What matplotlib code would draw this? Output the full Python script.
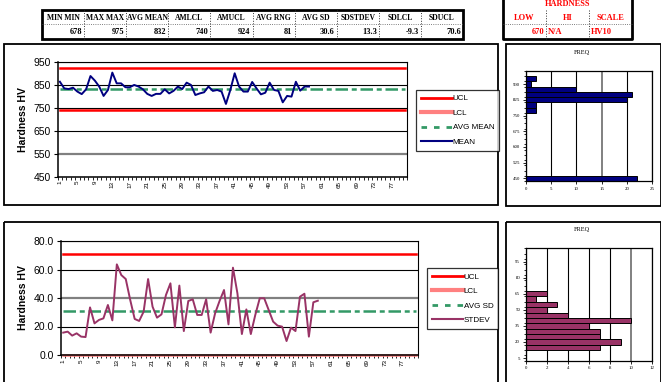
import numpy as np
import matplotlib.pyplot as plt
from matplotlib.patches import Rectangle
from matplotlib.lines import Line2D

W, H = 661, 382
plt.rcParams['font.family'] = ['Liberation Sans', 'DejaVu Sans']

# ---- data ----
stat_heads = ['MIN MIN', 'MAX MAX', 'AVG MEAN', 'AMLCL', 'AMUCL', 'AVG RNG', 'AVG SD', 'SDSTDEV', 'SDLCL', 'SDUCL']
stat_vals = ['678', '975', '832', '740', '924', '81', '30.6', '13.3', '-9.3', '70.6']
hard_title = 'HARDNESS'
hard_heads = ['LOW', 'HI', 'SCALE']
hard_vals = ['670', 'N/A', 'HV10']

n_cat = 80
mean_vals = [865, 836, 833, 839, 822, 811, 832, 890, 870, 844,
             803, 829, 905, 858, 858, 841, 841, 851, 844, 832,
             812, 803, 812, 812, 832, 814, 825, 844, 833, 861,
             851, 807, 814, 819, 844, 825, 829, 822, 768, 829,
             902, 844, 822, 822, 864, 836, 810, 817, 861, 829,
             825, 775, 803, 800, 865, 826, 844, 844]
mean_ucl, mean_lcl, mean_avg = 924, 740, 832

sd_vals = [15.7, 16.4, 13.6, 15.2, 12.9, 12.6, 33.4, 22.2, 24.6, 25.7,
           35.1, 24.3, 63.6, 56.1, 53.3, 38.6, 25.3, 23.9, 30.4, 53.3,
           33.9, 26.2, 28.5, 42.1, 50.3, 19.4, 48.7, 16.8, 37.9, 39.1,
           28.1, 28.1, 39.1, 15.7, 29.2, 37.9, 45.6, 21.5, 61.3, 43.3,
           14.7, 32.0, 14.7, 28.1, 39.8, 39.8, 31.6, 23.4, 20.6, 19.9,
           9.8, 19.2, 16.8, 40.9, 43.0, 12.9, 37.0, 38.1]
sd_ucl, sd_lcl, sd_avg = 70.6, 0.0, 30.6

mean_bins = [450, 475, 500, 525, 550, 575, 600, 625, 650, 675, 700,
             725, 750, 775, 800, 825, 850, 875, 900, 925, 950]
mean_freq = [22, 0, 0, 0, 0, 0, 0, 0, 0, 0, 0,
             0, 0, 2, 2, 20, 21, 10, 1, 2, 0]
sd_bins = [5, 10, 15, 20, 25, 30, 35, 40, 45, 50, 55,
           60, 65, 70, 75, 80, 85, 90, 95, 100, 105]
sd_freq = [0, 0, 7, 9, 7, 7, 6, 10, 4, 2, 3,
           1, 2, 0, 0, 0, 0, 0, 0, 0, 0]

RED = '#FF0000'
PINK = '#FF8080'
GREEN = '#339966'
NAVY = '#000080'
PLUM = '#993366'


def box(x0, y0, x1, y1):
    return [x0 / W, 1 - y1 / H, (x1 - x0) / W, (y1 - y0) / H]


fig = plt.figure(figsize=(W / 100, H / 100), dpi=100)
fig.patch.set_facecolor('white')

# overlay in pixel coordinates for table and panel frames
ov = fig.add_axes([0, 0, 1, 1], zorder=0)
ov.set_xlim(0, W)
ov.set_ylim(H, 0)
ov.axis('off')

for (x0, y0, x1, y1) in [(4, 44, 498, 205), (506, 44, 661, 206),
                         (4, 222, 498, 384), (506, 222, 661, 384)]:
    ov.add_patch(Rectangle((x0, y0), x1 - x0, y1 - y0, fill=False, ec='black', lw=1.3))

# stats table
tx0, tx1, ty0, ty1, ty2 = 42, 463, 10, 24, 39
cw = (tx1 - tx0) / len(stat_heads)
ov.add_patch(Rectangle((tx0, ty0), tx1 - tx0, ty2 - ty0, fill=False, ec='black', lw=2))
ov.plot([tx0, tx1], [ty1, ty1], color='#555555', lw=0.6, ls=':')
for i, (hd, v) in enumerate(zip(stat_heads, stat_vals)):
    cx = tx0 + i * cw
    if i > 0:
        ov.plot([cx, cx], [ty0, ty2], color='#333333', lw=0.7, ls=':')
    t = ov.text(cx + cw / 2, (ty0 + ty1) / 2 + 0.5, hd, ha='center', va='center',
                fontsize=5.5, fontweight='bold', family='Liberation Serif')
    t.set_clip_path(Rectangle((cx, ty0), cw, ty1 - ty0, transform=ov.transData))
    ov.text(cx + cw - 2, (ty1 + ty2) / 2 + 0.5, v, ha='right', va='center',
            fontsize=6, fontweight='bold', family='Liberation Serif')

# hardness table
hx0, hx1 = 503, 632
hw = (hx1 - hx0) / 3
ov.plot([hx0, hx0, hx1, hx1], [0, ty2, ty2, 0], color='black', lw=2)
ov.text((hx0 + hx1) / 2, 4.5, hard_title, ha='center', va='center', color=RED,
        fontsize=6, fontweight='bold', family='Liberation Serif')
ov.plot([hx0, hx1], [ty1, ty1], color='#555555', lw=0.6, ls=':')
for i, (hd, v) in enumerate(zip(hard_heads, hard_vals)):
    cx = hx0 + i * hw
    if i > 0:
        ov.plot([cx, cx], [ty0, ty2], color='#333333', lw=0.7, ls=':')
    ov.text(cx + hw / 2, (ty0 + ty1) / 2 + 0.5, hd, ha='center', va='center', color=RED,
            fontsize=6, fontweight='bold', family='Liberation Serif')
    if i == 0:
        ov.text(cx + hw - 2, (ty1 + ty2) / 2 + 0.5, v, ha='right', va='center', color=RED,
                fontsize=6, fontweight='bold', family='Liberation Serif')
    else:
        ov.text(cx + 1.5, (ty1 + ty2) / 2 + 0.5, v, ha='left', va='center', color=RED,
                fontsize=6, fontweight='bold', family='Liberation Serif')


def control_chart(rect, vals, ucl, lcl, avg, ylim, yticks, yfmt, grey_y, lcl_color,
                  line_color, names, leg_xy):
    ax = fig.add_axes(rect, zorder=2)
    cats = np.arange(1, n_cat + 1)
    ax.set_xlim(0.5, n_cat + 0.5)
    ax.set_ylim(*ylim)
    ax.set_yticks(yticks)
    ax.set_yticklabels([yfmt.format(v) for v in yticks], fontsize=7.5)
    ax.yaxis.grid(True, color='black', lw=0.8)
    ax.set_axisbelow(True)
    for gl, v in zip(ax.get_ygridlines(), yticks):
        if v == grey_y:
            gl.set_color('#808080')
            gl.set_linewidth(1.6)
    ax.plot(cats, np.full(n_cat, ucl), color=RED, lw=1.8)
    ax.plot(cats, np.full(n_cat, lcl), color=lcl_color, lw=1.8, clip_on=False)
    ax.plot(cats, np.full(n_cat, avg), color=GREEN, lw=1.8, ls=(0, (5, 1.5, 2, 1.5)))
    ax.plot(np.arange(1, len(vals) + 1), vals, color=line_color, lw=1.4)
    ax.set_xticks(np.arange(1, n_cat + 1, 4))
    ax.set_xticklabels([str(c) for c in range(1, n_cat + 1, 4)], rotation=90, fontsize=4.5)
    ax.tick_params(axis='x', which='major', length=0, pad=3)
    ax.set_xticks(np.arange(0.5, n_cat + 1.5, 1), minor=True)
    ax.tick_params(axis='x', which='minor', length=2.5, width=0.6, direction='out')
    ax.tick_params(axis='y', length=3, width=0.8, pad=2)
    for s in ax.spines.values():
        s.set_linewidth(0.8)
    ax.spines['left'].set_linewidth(1.1)
    ax.spines['bottom'].set_linewidth(1.1)
    ax.set_ylabel('Hardness HV', fontsize=7.5, fontweight='bold', labelpad=4)
    handles = [Line2D([], [], color=RED, lw=2),
               Line2D([], [], color=PINK, lw=3),
               Line2D([], [], color=GREEN, lw=2, ls=(0, (2, 2.5))),
               Line2D([], [], color=line_color, lw=1.5)]
    leg = fig.legend(handles, names, loc='upper left', bbox_to_anchor=leg_xy,
                     frameon=True, fancybox=False, edgecolor='black', fontsize=5.8,
                     handlelength=3.9, handletextpad=0.1, labelspacing=0.85,
                     borderpad=0.6, borderaxespad=0)
    leg.get_frame().set_linewidth(0.9)
    return ax


control_chart(box(57.7, 62.3, 407.3, 176.7), mean_vals, mean_ucl, mean_lcl, mean_avg,
              (450, 950), [450, 550, 650, 750, 850, 950], '{:d}', 550, RED, NAVY,
              ['UCL', 'LCL', 'AVG MEAN', 'MEAN'], (415.7 / W, 1 - 90 / H))
control_chart(box(61, 241, 418.3, 355), sd_vals, sd_ucl, sd_lcl, sd_avg,
              (0, 80), [0, 20, 40, 60, 80], '{:.1f}', 40, PINK, PLUM,
              ['UCL', 'LCL', 'AVG SD', 'STDEV'], (426.7 / W, 1 - 268.3 / H))


def freq_chart(rect, bins, freq, xmax, xstep, grey_x, color, title_y):
    ax = fig.add_axes(rect, zorder=2)
    pos = np.arange(len(bins))
    ax.barh(pos, freq, height=1.0, color=color, edgecolor='black', lw=0.7)
    ax.set_ylim(-0.5, len(bins) - 0.5)
    ax.set_xlim(0, xmax)
    xt = np.arange(0, xmax + 1, xstep)
    ax.set_xticks(xt)
    ax.set_xticklabels([str(v) for v in xt], fontsize=3.5, family='Liberation Serif')
    ax.set_yticks(pos[::3])
    ax.set_yticklabels([str(b) for b in bins[::3]], fontsize=3.5, family='Liberation Serif')
    ax.set_yticks(np.arange(-0.5, len(bins), 1), minor=True)
    ax.tick_params(axis='y', which='minor', length=1.5, width=0.6)
    ax.tick_params(axis='both', which='major', length=2, width=0.6, pad=2)
    ax.xaxis.grid(True, color='black', lw=0.8)
    ax.set_axisbelow(True)
    for gl, v in zip(ax.get_xgridlines(), xt):
        if v == grey_x:
            gl.set_color('#808080')
            gl.set_linewidth(1.4)
    for s in ax.spines.values():
        s.set_linewidth(0.9)
    fig.text(581.7 / W, 1 - title_y / H, 'FREQ', ha='center', va='center', fontsize=4.5,
             family='Liberation Serif')
    return ax


freq_chart(box(525.7, 71, 652.3, 181), mean_bins, mean_freq, 25, 5, 15, NAVY, 52.7)
freq_chart(box(525.7, 248.3, 652.3, 360.7), sd_bins, sd_freq, 12, 2, 10, PLUM, 230)

fig.savefig('out.png', dpi=100)
